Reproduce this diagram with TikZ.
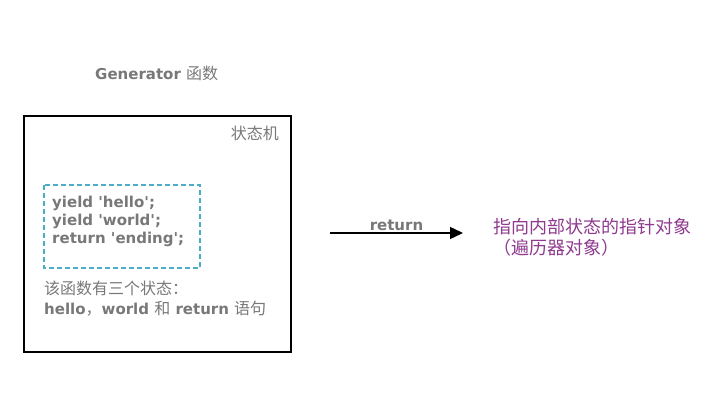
\documentclass[tikz,border=0pt]{standalone}
\usepackage{fontspec}
\setmainfont{DejaVu Sans}
\newfontfamily\cjk{Noto Sans CJK SC}
\usetikzlibrary{arrows.meta}
\definecolor{txtgray}{HTML}{787878}
\definecolor{dashteal}{HTML}{4BACC6}
\definecolor{purp}{HTML}{8E3A8E}
\newcommand{\zh}[1]{{\cjk\mdseries\fontsize{16}{18}\selectfont #1}}
\newcommand{\q}{\textquotesingle}
\tikzset{
  lbl/.style={inner sep=0pt, text=txtgray, font=\bfseries\fontsize{15}{18}\selectfont},
  code/.style={inner sep=0pt, text=txtgray, align=left, font=\bfseries\fontsize{15}{18}\selectfont},
  ptr/.style={inner sep=0pt, text=purp, align=left, font=\cjk\fontsize{18}{21}\selectfont},
}
\begin{document}
\begin{tikzpicture}[x=1pt,y=-1pt]
\useasboundingbox (0,0) rectangle (704,406);
\node[lbl, anchor=west] (title) at (95,73) {Generator \zh{函数}};
\draw[line width=2pt] (24,116) rectangle (291,352);
\node[lbl, anchor=east] (sm) at (279,133) {\zh{状态机}};
\draw[dashteal, line width=1.5pt, dash pattern=on 5pt off 3pt] (44,185) rectangle (200,268);
\node[code, anchor=north west] (codebox) at (52,196) {yield \q hello\q;\\yield \q world\q;\\return \q ending\q;};
\node[lbl, anchor=west] (desc1) at (44,288) {\zh{该函数有三个状态：}};
\node[lbl, anchor=west] (desc2) at (44,309) {hello\zh{，}world \zh{和} return \zh{语句}};
\coordinate (a1) at (330,233);
\node[ptr, anchor=north west] (target) at (493,218) {指向内部状态的指针对象\\（遍历器对象）};
\coordinate (a2) at (463,233);
\draw[line width=1.5pt, -{Triangle[length=13pt,width=12pt]}] (a1) -- (a2) node[midway, above=2pt, lbl] {return};
\end{tikzpicture}
\end{document}
